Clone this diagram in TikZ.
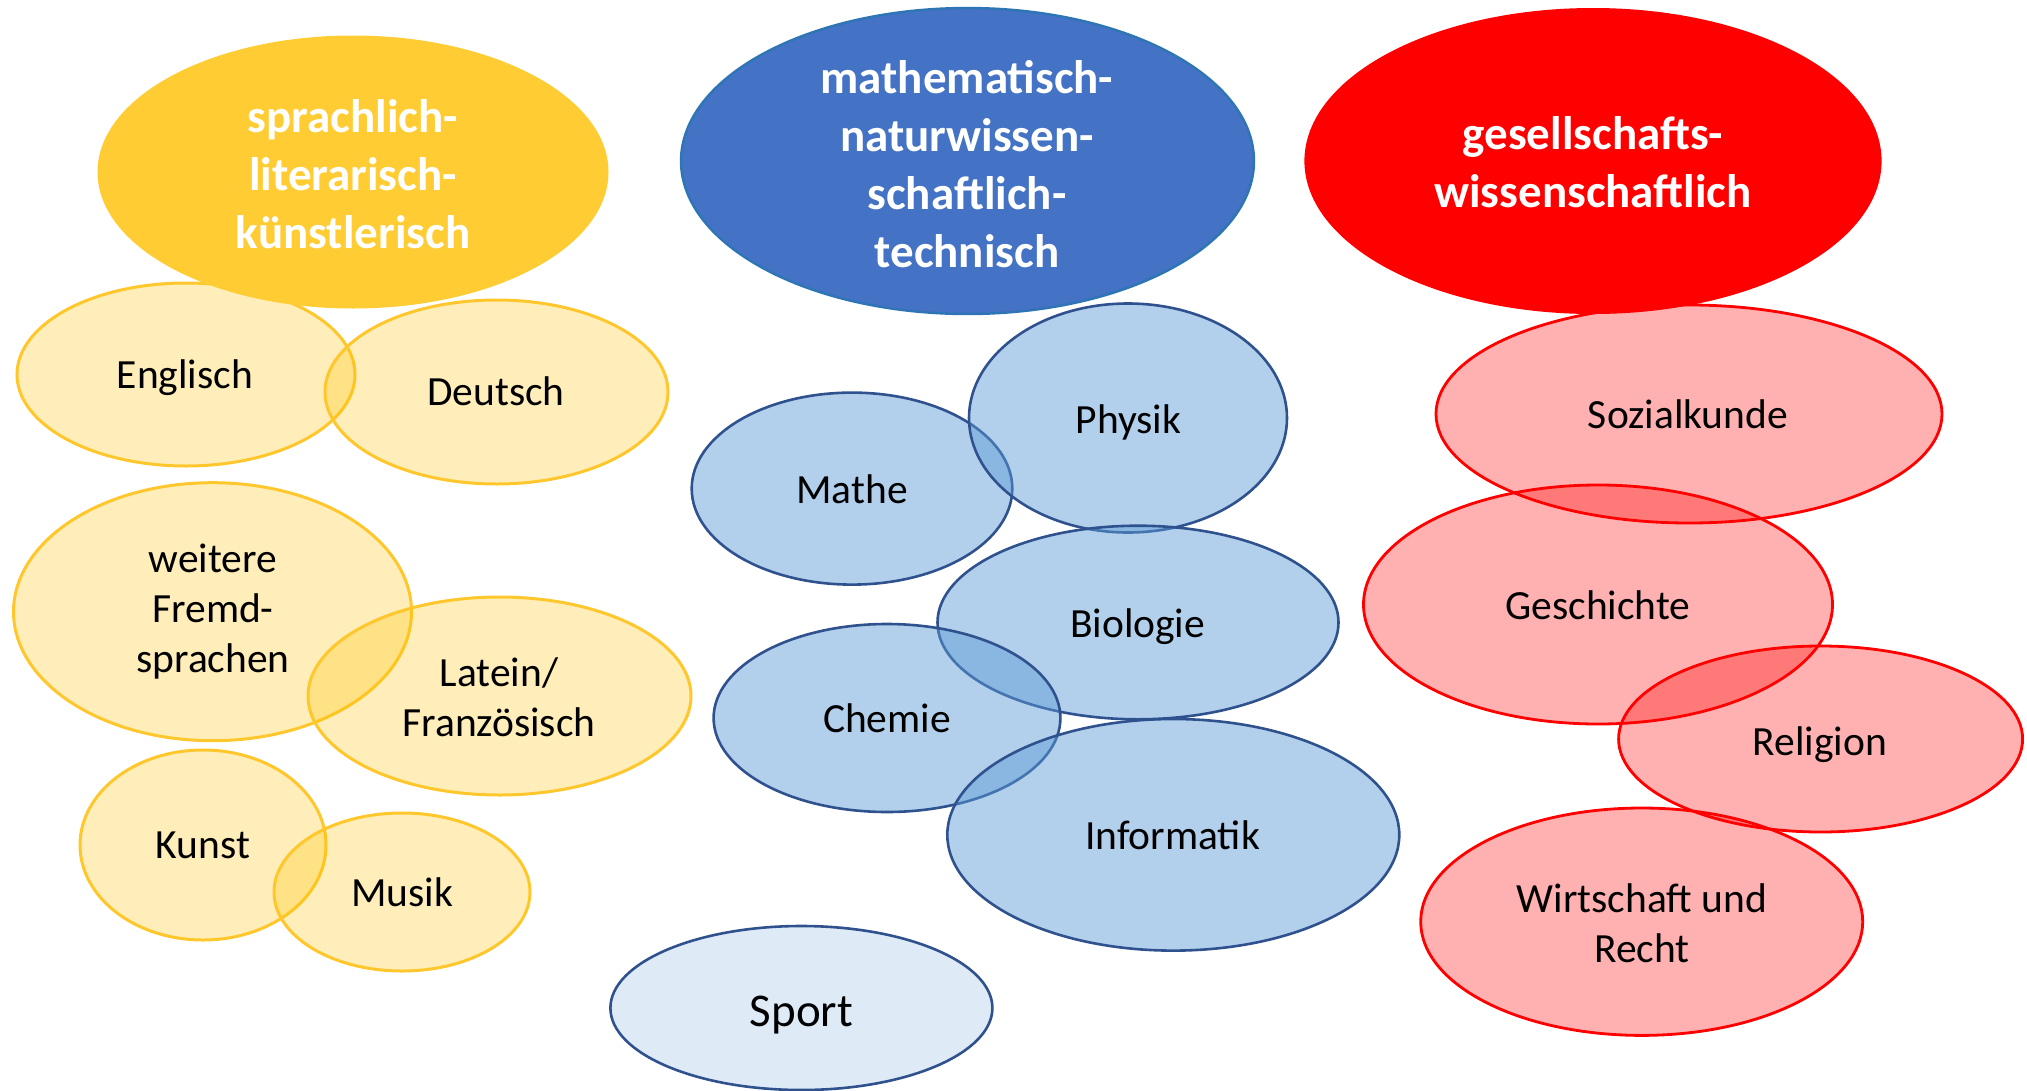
\documentclass[tikz,border=0pt]{standalone}
\usepackage{fontspec}
\setmainfont{Carlito}
\definecolor{yhead}{HTML}{FFCD33}
\definecolor{yline}{HTML}{FFC72C}
\definecolor{yfill}{HTML}{FFC000}
\definecolor{bhead}{HTML}{4472C4}
\definecolor{bheadline}{HTML}{2E75B6}
\definecolor{bline}{HTML}{2F528F}
\definecolor{bfill}{HTML}{5B9BD5}
\definecolor{sportfill}{HTML}{DEEBF7}
\definecolor{rhead}{HTML}{FF0000}
\definecolor{rfill}{HTML}{FF0000}
\tikzset{
  yel/.style={draw=yline, line width=3pt, fill=yfill, fill opacity=0.275},
  blu/.style={draw=bline, line width=2.6pt, fill=bfill, fill opacity=0.47},
  re/.style={draw=rhead, line width=2.8pt, fill=rfill, fill opacity=0.31},
  yhd/.style={draw=yhead, line width=2pt, fill=yhead},
  bhd/.style={draw=bheadline, line width=2.4pt, fill=bhead},
  rhd/.style={draw=rhead, line width=2pt, fill=rhead},
  sportel/.style={draw=bline, line width=2.6pt, fill=sportfill},
  lbl/.style={inner sep=0pt, align=center, font=\fontsize{41.5}{50}\selectfont, text=black},
  one/.style={text height=26pt, text depth=0pt},
  hdr/.style={inner sep=0pt, align=center, font=\bfseries\fontsize{47}{58}\selectfont, text=white},
}
\begin{document}
\begin{tikzpicture}[x=1pt,y=-1pt]
\useasboundingbox (0,0) rectangle (2027,1090);
% yellow group
\draw[yel] (186,374.5) ellipse [x radius=169, y radius=91.5];
\draw[yel] (496.5,392) ellipse [x radius=171.5, y radius=92];
\draw[yel] (212.5,611.7) ellipse [x radius=199, y radius=129];
\draw[yel] (499.5,696) ellipse [x radius=191.5, y radius=99];
\draw[yel] (203,845) ellipse [x radius=123, y radius=95];
\draw[yel] (402,892) ellipse [x radius=128, y radius=79];
\draw[yhd] (353,172) ellipse [x radius=254.5, y radius=135.5];
% blue group
\draw[blu] (852,488.6) ellipse [x radius=160.3, y radius=96];
\draw[blu] (1128,418) ellipse [x radius=159, y radius=114.5];
\draw[blu] (1138,622.5) ellipse [x radius=200.5, y radius=96.8];
\draw[blu] (887,718) ellipse [x radius=173.4, y radius=94];
\draw[blu] (1173.3,834.8) ellipse [x radius=226, y radius=115.8];
\draw[sportel] (801.4,1008) ellipse [x radius=191, y radius=82];
\draw[bhd] (967.5,161) ellipse [x radius=286.5, y radius=153];
% red group
\draw[re] (1689,414) ellipse [x radius=253, y radius=109];
\draw[re] (1598,604.5) ellipse [x radius=234.5, y radius=119.5];
\draw[re] (1820.6,739) ellipse [x radius=202, y radius=93];
\draw[re] (1641.7,921.7) ellipse [x radius=221, y radius=113.7];
\draw[rhd] (1593,161) ellipse [x radius=287.6, y radius=152];
% texts
\node[hdr] (sprach) at (353,174) {sprachlich-\\literarisch-\\künstlerisch};
\node[hdr] (mathnat) at (967,164) {mathematisch-\\naturwissen-\\schaftlich-\\technisch};
\node[hdr] (gesell) at (1593,162) {gesellschafts-\\wissenschaftlich};
\node[lbl, one] (englisch) at (185,375) {Englisch};
\node[lbl, one] (deutsch) at (496,392) {Deutsch};
\node[lbl] (fremd) at (213,612) {weitere\\Fremd-\\sprachen};
\node[lbl] (latein) at (499,697) {Latein/\\Französisch};
\node[lbl, one] (kunst) at (203,845) {Kunst};
\node[lbl, one] (musik) at (402,893) {Musik};
\node[lbl, one] (mathe) at (852,490) {Mathe};
\node[lbl, one] (physik) at (1128.5,420) {Physik};
\node[lbl, one] (bio) at (1137.6,624) {Biologie};
\node[lbl, one] (chemie) at (887,719) {Chemie};
\node[lbl, one] (info) at (1172.5,836) {Informatik};
\node[lbl, one, text height=30pt, font=\fontsize{47}{56}\selectfont] (sport) at (801.5,1011) {Sport};
\node[lbl, one] (sozial) at (1688,415) {Sozialkunde};
\node[lbl, one] (gesch) at (1598,606) {Geschichte};
\node[lbl, one] (religion) at (1820,742) {Religion};
\node[lbl] (wirt) at (1642,923) {Wirtschaft und\\Recht};
\end{tikzpicture}
\end{document}
